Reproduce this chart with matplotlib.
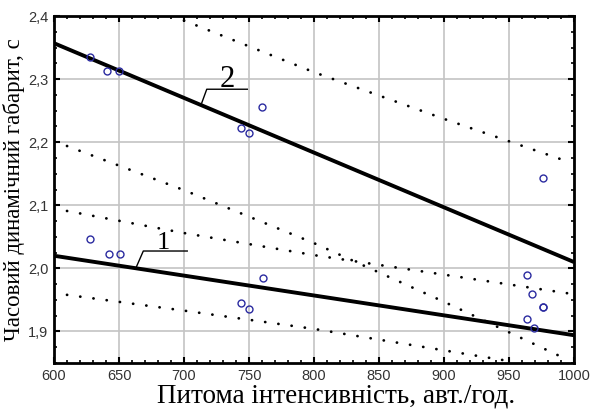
import matplotlib
matplotlib.use("Agg")
import matplotlib.pyplot as plt
from matplotlib.ticker import MultipleLocator, FuncFormatter

# Observed data: series 2 (upper) and series 1 (lower)
x2_obs = [628, 641, 650, 744, 750, 760, 976]
y2_obs = [2.335, 2.313, 2.313, 2.223, 2.214, 2.256, 2.143]
x1_obs = [628, 642, 651, 744, 750, 761, 964, 968, 976, 976, 964, 969]
y1_obs = [2.047, 2.022, 2.022, 1.945, 1.936, 1.984, 1.990, 1.959, 1.939, 1.938, 1.920, 1.905]

# Regression lines
x_fit = [600, 1000]
y2_fit = [2.357, 2.010]
y1_fit = [2.020, 1.894]

# Confidence bands (dotted)
xu2 = [700, 800, 900, 990]
yu2 = [2.393, 2.311, 2.237, 2.173]
xl2 = [610, 700, 800, 900, 990]
yl2 = [2.194, 2.124, 2.040, 1.947, 1.860]
xu1 = [610, 700, 800, 900, 1000]
yu1 = [2.091, 2.056, 2.021, 1.990, 1.959]
xl1 = [610, 700, 800, 900, 950]
yl1 = [1.958, 1.933, 1.904, 1.870, 1.853]

fig = plt.figure(figsize=(5.98, 4.12), dpi=100)
ax = fig.add_axes([0.0903, 0.119, 0.8696, 0.842])

ax.set_xlim(600, 1000)
ax.set_ylim(1.85, 2.4)

ax.grid(True, which="major", color="#c4c4c4", lw=1.2, zorder=0)
ax.set_axisbelow(True)

dot_style = dict(color="black", lw=2.0, linestyle=(0, (0.05, 4.75)),
                 dash_capstyle="round", zorder=2)
for xs, ys in [(xu2, yu2), (xl2, yl2), (xu1, yu1), (xl1, yl1)]:
    ax.plot(xs, ys, **dot_style)

ax.plot(x_fit, y2_fit, color="black", lw=2.8, solid_capstyle="butt", zorder=3)
ax.plot(x_fit, y1_fit, color="black", lw=2.8, solid_capstyle="butt", zorder=3)

mk = dict(marker="o", linestyle="none", markersize=5, markerfacecolor="none",
          markeredgecolor="#2b2ba0", markeredgewidth=1.0, zorder=4)
ax.plot(x2_obs, y2_obs, **mk)
ax.plot(x1_obs, y1_obs, **mk)

# leader lines and labels
ax.plot([713.6, 717.5, 748.7], [2.262, 2.284, 2.284], color="black", lw=1.0, zorder=3)
ax.text(733.5, 2.288, "2", fontsize=22, family="Liberation Serif",
        ha="center", va="baseline", zorder=5)
ax.plot([663.1, 668.7, 702.5], [2.0011, 2.0275, 2.0275], color="black", lw=1.0, zorder=3)
ax.text(684, 2.031, "1", fontsize=19, family="Liberation Serif",
        ha="center", va="baseline", zorder=5)

ax.xaxis.set_major_locator(MultipleLocator(50))
ax.xaxis.set_minor_locator(MultipleLocator(10))
ax.yaxis.set_major_locator(MultipleLocator(0.1))
ax.yaxis.set_minor_locator(MultipleLocator(0.025))
ax.yaxis.set_major_formatter(FuncFormatter(lambda v, p: f"{v:.1f}".replace(".", ",")))

ax.tick_params(which="both", direction="in", top=True, right=True, color="black")
ax.tick_params(which="major", length=4, width=1.5, labelsize=10.5, pad=4)
ax.tick_params(which="minor", length=2.5, width=1.2)
for lab in ax.get_xticklabels() + ax.get_yticklabels():
    lab.set_family("Liberation Sans")
    lab.set_color("#333333")

for s in ax.spines.values():
    s.set_linewidth(2.0)
    s.set_color("black")

ax.set_xlabel("Питома інтенсивність, авт./год.", fontsize=19.5,
              family="Liberation Serif", va="baseline")
ax.xaxis.set_label_coords(0.542, -0.115)
ax.set_ylabel("Часовий динамічний габарит, с", fontsize=16.5,
              family="Liberation Serif", labelpad=2)

fig.savefig("out.png", dpi=100)
